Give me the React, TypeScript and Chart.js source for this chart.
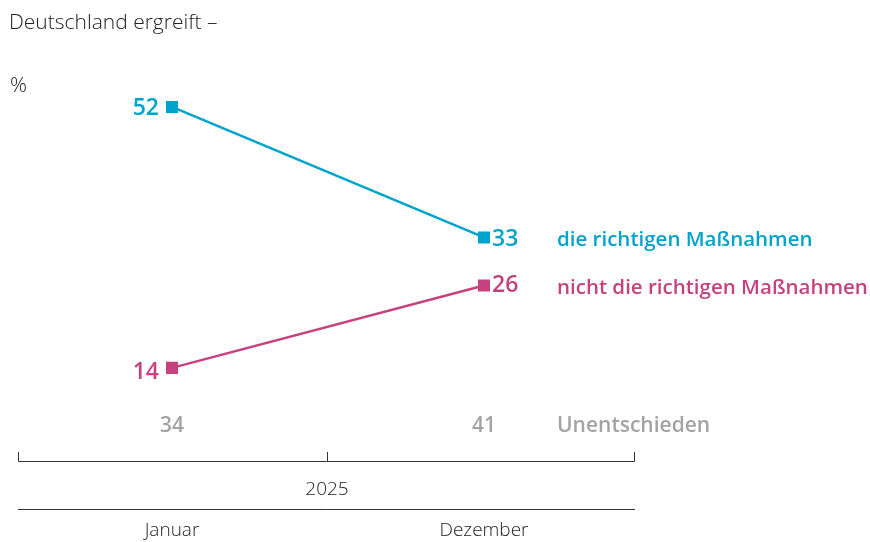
import React, { useEffect, useRef } from "react";
import { Chart, registerables } from "chart.js";

Chart.register(...registerables);

const categories = ["Januar", "Dezember"];
const periodLabel = "2025";
const titleText = "Deutschland ergreift –";
const unitText = "%";
const seriesNames = ["die richtigen Maßnahmen", "nicht die richtigen Maßnahmen"];
const richtig = [52, 33];
const nichtRichtig = [14, 26];
const unentschieden = [34, 41];
const unentschiedenLabel = "Unentschieden";

const CYAN = "#00a3cc";
const MAGENTA = "#c6427f";
const GRAY = "#a3a3a3";
const DARK = "#222222";
const FONT = "'Open Sans', 'Noto Sans', sans-serif";

const overlay = {
  id: "overlay",
  afterDraw(chart: any) {
    const ctx = chart.ctx;
    const xs = chart.scales.x;
    ctx.save();
    // title & unit
    ctx.fillStyle = DARK;
    ctx.font = `300 21px ${FONT}`;
    ctx.textAlign = "left";
    ctx.textBaseline = "middle";
    ctx.fillText(titleText, 9, 23);
    ctx.fillText(unitText, 10, 86);

    // value labels
    const colors = [CYAN, MAGENTA];
    [0, 1].forEach((di) => {
      const meta = chart.getDatasetMeta(di);
      const data = chart.data.datasets[di].data;
      meta.data.forEach((pt: any, i: number) => {
        ctx.fillStyle = colors[di];
        ctx.font = `600 23px ${FONT}`;
        ctx.textBaseline = "middle";
        const dy = di === 1 ? (i === 0 ? 5 : 0) : 2;
        if (i === 0) {
          ctx.textAlign = "right";
          ctx.fillText(String(data[i]), pt.x - 13, pt.y + dy);
        } else {
          ctx.textAlign = "left";
          ctx.fillText(String(data[i]), pt.x + 8, pt.y + dy);
        }
        if (i === meta.data.length - 1) {
          ctx.font = `600 20.5px ${FONT}`;
          ctx.textAlign = "left";
          ctx.fillText(seriesNames[di], 557, pt.y + 3);
        }
      });
    });

    // undecided row
    ctx.fillStyle = GRAY;
    ctx.font = `600 21px ${FONT}`;
    ctx.textBaseline = "middle";
    ctx.textAlign = "center";
    unentschieden.forEach((v, i) => {
      ctx.fillText(String(v), xs.getPixelForValue(i), 426);
    });
    ctx.textAlign = "left";
    ctx.fillText(unentschiedenLabel, 557, 426);

    // bracket axis
    const l = 18;
    const r = 635;
    const mid = 327;
    ctx.strokeStyle = "#333333";
    ctx.lineWidth = 1;
    ctx.beginPath();
    ctx.moveTo(l + 0.5, 452);
    ctx.lineTo(l + 0.5, 461.5);
    ctx.lineTo(r - 0.5, 461.5);
    ctx.lineTo(r - 0.5, 452);
    ctx.moveTo(mid + 0.5, 452);
    ctx.lineTo(mid + 0.5, 461.5);
    ctx.stroke();
    ctx.beginPath();
    ctx.moveTo(l, 509.5);
    ctx.lineTo(r, 509.5);
    ctx.stroke();

    ctx.fillStyle = DARK;
    ctx.font = `300 19px ${FONT}`;
    ctx.textAlign = "center";
    ctx.fillText(periodLabel, mid, 490);
    categories.forEach((c, i) => {
      ctx.fillText(c, xs.getPixelForValue(i), 531);
    });
    ctx.restore();
  },
};

export default function App() {
  const ref = useRef<HTMLCanvasElement | null>(null);
  useEffect(() => {
    if (!ref.current) return;
    const chart = new Chart(ref.current, {
      type: "line",
      data: {
        labels: categories,
        datasets: [
          {
            label: seriesNames[0],
            data: richtig,
            borderColor: CYAN,
            backgroundColor: CYAN,
            borderWidth: 2.5,
            pointStyle: "rect",
            pointRadius: 8.5,
            pointBorderWidth: 0,
          },
          {
            label: seriesNames[1],
            data: nichtRichtig,
            borderColor: MAGENTA,
            backgroundColor: MAGENTA,
            borderWidth: 2.5,
            pointStyle: "rect",
            pointRadius: 8.5,
            pointBorderWidth: 0,
          },
        ],
      },
      options: {
        responsive: true,
        maintainAspectRatio: false,
        animation: false,
        layout: { padding: { left: 16, right: 230, top: 52, bottom: 78 } },
        plugins: { legend: { display: false }, tooltip: { enabled: false }, title: { display: false } },
        scales: {
          x: { type: "category", offset: true, display: false },
          y: { min: 0, max: 60, display: false },
        },
      },
      plugins: [overlay],
    });
    return () => chart.destroy();
  }, []);
  return (
    <div style={{ position: "absolute", left: 0, top: 0, width: 870, height: 542, background: "#fff" }}>
      <canvas ref={ref} />
    </div>
  );
}
